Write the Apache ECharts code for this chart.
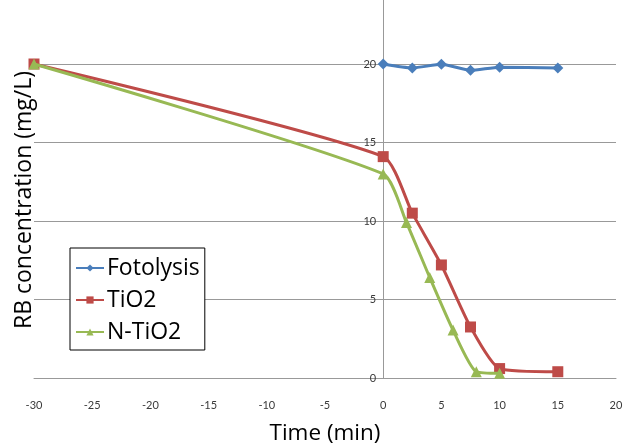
<!DOCTYPE html>
<html>
<head>
<meta charset="utf-8">
<script src="https://cdn.jsdelivr.net/npm/echarts@6/dist/echarts.min.js"></script>
<style>
html,body{margin:0;padding:0;background:#fff;}
#chart{width:625px;height:444px;}
</style>
</head>
<body>
<div id="chart"></div>
<script>
const seriesNames = ['Fotolysis', 'TiO2', 'N-TiO2'];
const fotolysisX = [0, 2.5, 5, 7.5, 10, 15];
const fotolysisY = [20.0, 19.75, 19.98, 19.6, 19.8, 19.75];
const tio2X = [-30, 0, 2.5, 5, 7.5, 10, 15];
const tio2Y = [20.0, 14.1, 10.5, 7.2, 3.25, 0.6, 0.4];
const ntio2X = [-30, 0, 2, 4, 6, 8, 10];
const ntio2Y = [20.0, 13.0, 9.9, 6.4, 3.05, 0.4, 0.3];
const xTicks = { min: -30, max: 20, interval: 5 };
const yTicks = { min: 0, max: 25, interval: 5 };
const xTitle = 'Time (min)';
const yTitle = 'RB concentration (mg/L)';

const pair = (xs, ys) => xs.map((x, i) => [x, ys[i]]);
const colors = ['#4A7EBB', '#BE4B48', '#98B954'];
const symbols = ['diamond', 'rect', 'triangle'];
const symbolSizes = [11, 11, 11];
const datas = [pair(fotolysisX, fotolysisY), pair(tio2X, tio2Y), pair(ntio2X, ntio2Y)];

const gridLeft = 34, gridRight = 9, W = 625;
// y axis sits at x = 0 on the time axis
const yAxisShift = (0 - xTicks.min) / (xTicks.max - xTicks.min) * (W - gridLeft - gridRight);

const chart = echarts.init(document.getElementById('chart'));
chart.setOption({
  animation: false,
  backgroundColor: '#fff',
  grid: { left: gridLeft, right: gridRight, top: -14.5, bottom: 66, containLabel: false, outerBoundsMode: 'none' },
  xAxis: {
    type: 'value', min: xTicks.min, max: xTicks.max, interval: xTicks.interval,
    axisLine: { show: true, onZero: false, lineStyle: { color: '#999', width: 1 } },
    axisTick: { show: false },
    splitLine: { show: false },
    axisLabel: { color: '#3a3a3a', fontFamily: 'Lato', fontSize: 11, margin: 22 },
    name: xTitle, nameLocation: 'middle', nameGap: 44,
    nameTextStyle: { color: '#000', fontFamily: 'Open Sans', fontSize: 22.5 }
  },
  yAxis: {
    type: 'value', min: yTicks.min, max: yTicks.max, interval: yTicks.interval,
    position: 'left', offset: -yAxisShift,
    axisLine: { show: true, onZero: false, lineStyle: { color: '#999', width: 1 } },
    axisTick: { show: false },
    splitLine: { show: true, lineStyle: { color: '#999', width: 1 } },
    axisLabel: { color: '#3a3a3a', fontFamily: 'Lato', fontSize: 11, margin: 7,
      formatter: v => (v > 20 ? '' : v) }
  },
  graphic: [{
    type: 'text', x: 24, y: 200, rotation: Math.PI / 2,
    style: { text: yTitle, fill: '#000', font: '23px "Open Sans"', align: 'center', verticalAlign: 'middle' }
  }],
  legend: {
    orient: 'vertical', left: 70, top: 248,
    backgroundColor: '#fff', borderColor: '#000', borderWidth: 1,
    padding: [8, 5, 6, 5], itemGap: 8, itemWidth: 28, itemHeight: 9,
    textStyle: { color: '#000', fontFamily: 'Open Sans', fontSize: 23, lineHeight: 24, padding: [0, 0, 0, -2] },
    data: seriesNames
  },
  series: seriesNames.map((n, i) => ({
    name: n, type: 'line', data: datas[i], smooth: 0.2,
    symbol: symbols[i], symbolSize: symbolSizes[i],
    lineStyle: { color: colors[i], width: 3 },
    itemStyle: { color: colors[i] },
    z: 3 + i
  }))
});
</script>
</body>
</html>
